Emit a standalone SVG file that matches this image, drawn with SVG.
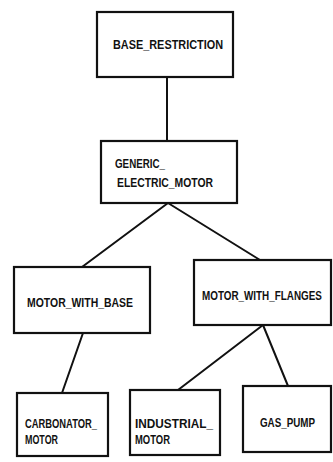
<svg xmlns="http://www.w3.org/2000/svg" width="333" height="462" viewBox="0 0 333 462">
  <style>
    .box { fill: #fff; stroke: #111; stroke-width: 2.2; }
    .edge { stroke: #111; stroke-width: 2; fill: none; stroke-linecap: round; }
    .lbl { font-family: "Liberation Sans", "DejaVu Sans", sans-serif; font-size: 13px; font-weight: bold; fill: #111; }
  </style>
  <rect width="333" height="462" fill="#fff"/>
  <g id="connectors">
    <line class="edge" x1="167" y1="77" x2="167" y2="141"/>
    <line class="edge" x1="168" y1="203" x2="82" y2="267"/>
    <line class="edge" x1="168" y1="203" x2="260" y2="260"/>
    <line class="edge" x1="83" y1="333" x2="62" y2="393"/>
    <line class="edge" x1="263" y1="325" x2="178" y2="390"/>
    <line class="edge" x1="263" y1="325" x2="288" y2="386"/>
  </g>
  <g id="base_restriction">
    <rect class="box" x="97" y="12" width="136" height="65"/>
    <text class="lbl" x="113" y="49" textLength="110" lengthAdjust="spacingAndGlyphs">BASE_RESTRICTION</text>
  </g>
  <g id="generic_electric_motor">
    <rect class="box" x="101" y="141" width="136" height="62"/>
    <text class="lbl" x="115" y="168" textLength="50" lengthAdjust="spacingAndGlyphs">GENERIC_</text>
    <text class="lbl" x="117" y="187" textLength="96" lengthAdjust="spacingAndGlyphs">ELECTRIC_MOTOR</text>
  </g>
  <g id="motor_with_base">
    <rect class="box" x="14" y="267" width="136" height="66"/>
    <text class="lbl" x="27" y="307" textLength="106" lengthAdjust="spacingAndGlyphs">MOTOR_WITH_BASE</text>
  </g>
  <g id="motor_with_flanges">
    <rect class="box" x="194" y="260" width="137" height="65"/>
    <!-- horizontally condensed so the long label stays inside its box -->
    <text class="lbl" transform="translate(202,300) scale(0.76,1)" x="0" y="0">MOTOR_WITH_FLANGES</text>
  </g>
  <g id="carbonator_motor">
    <rect class="box" x="17" y="393" width="91" height="63"/>
    <text class="lbl" x="25" y="428" textLength="72" lengthAdjust="spacingAndGlyphs">CARBONATOR_</text>
    <text class="lbl" x="25" y="444" textLength="33" lengthAdjust="spacingAndGlyphs">MOTOR</text>
  </g>
  <g id="industrial_motor">
    <rect class="box" x="130" y="390" width="90" height="65"/>
    <text class="lbl" x="135" y="428" textLength="78" lengthAdjust="spacingAndGlyphs">INDUSTRIAL_</text>
    <text class="lbl" x="135" y="444" textLength="35" lengthAdjust="spacingAndGlyphs">MOTOR</text>
  </g>
  <g id="gas_pump">
    <rect class="box" x="243" y="386" width="88" height="66"/>
    <text class="lbl" x="260" y="427" textLength="55" lengthAdjust="spacingAndGlyphs">GAS_PUMP</text>
  </g>
</svg>
